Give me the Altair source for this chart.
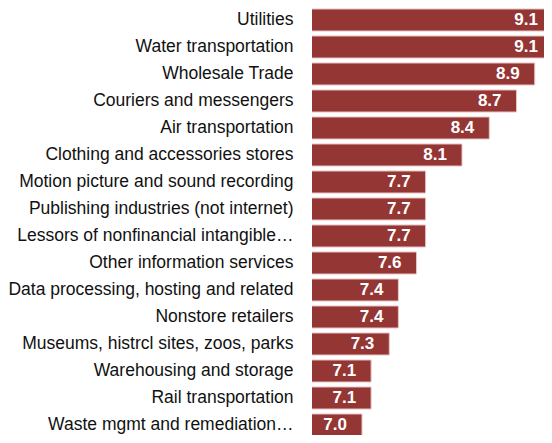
import altair as alt
import pandas as pd

categories = [
    "Utilities", "Water transportation", "Wholesale Trade", "Couriers and messengers",
    "Air transportation", "Clothing and accessories stores", "Motion picture and sound recording",
    "Publishing industries (not internet)", "Lessors of nonfinancial intangible…",
    "Other information services", "Data processing, hosting and related", "Nonstore retailers",
    "Museums, histrcl sites, zoos, parks", "Warehousing and storage", "Rail transportation",
    "Waste mgmt and remediation…",
]
values = [9.1, 9.1, 8.9, 8.7, 8.4, 8.1, 7.7, 7.7, 7.7, 7.6, 7.4, 7.4, 7.3, 7.1, 7.1, 7.0]

df = pd.DataFrame({"category": categories, "value": values})

x = alt.X("value:Q", scale=alt.Scale(domain=[6.45, 9.002], zero=False, nice=False), axis=None)
y = alt.Y(
    "category:N",
    sort=categories,
    scale=alt.Scale(paddingInner=0.185, paddingOuter=0.037),
    axis=alt.Axis(
        title=None, domain=False, ticks=False, labelPadding=19, labelFontSize=17.5,
        labelFont="Liberation Sans", labelColor="#111111", labelLimit=400,
    ),
)

bars = alt.Chart(df).mark_bar(
    color="#943634", stroke="#e8c4c4", strokeWidth=1, clip=True
).encode(x=x, y=y)
labels = alt.Chart(df).mark_text(
    align="right", baseline="middle", dx=-15, font="Liberation Sans", fontSize=17,
    fontWeight="bold", color="white", clip=True,
).encode(x=x, y=y, text=alt.Text("value:Q", format=".1f"))

chart = (
    alt.layer(bars, labels)
    .properties(
        width=232, height=429,
        autosize=alt.AutoSizeParams(type="none"),
        padding={"left": 304, "top": 0, "right": 0, "bottom": -2},
    )
    .configure_view(stroke=None)
)

chart.save("out.html", embed_options={"renderer": "svg", "actions": False})
